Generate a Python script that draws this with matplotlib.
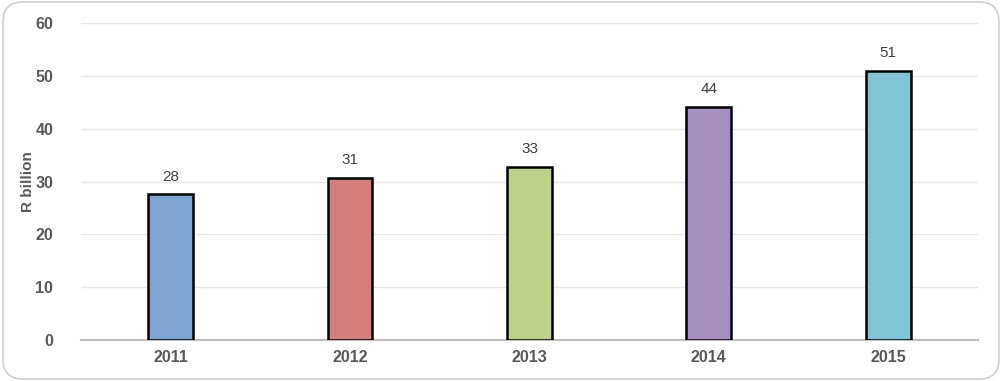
import matplotlib
matplotlib.use("Agg")
import matplotlib.pyplot as plt
from matplotlib.patches import FancyBboxPatch

years = ['2011', '2012', '2013', '2014', '2015']
values = [27.6, 30.7, 32.8, 44.1, 51.0]
colors = ['#7FA6D3', '#D47E7D', '#BDD18B', '#A591BF', '#7FC3D4']
y_ticks = [0, 10, 20, 30, 40, 50, 60]

plt.rcParams['font.family'] = ['Liberation Sans', 'DejaVu Sans']

fig = plt.figure(figsize=(10.02, 3.81), dpi=100)
ax = fig.add_axes([0.0808, 0.1076, 0.8952, 0.832])

# rounded outer frame
frame = FancyBboxPatch((0.003, 0.005), 0.994, 0.99,
                       boxstyle="round,pad=0,rounding_size=0.02",
                       transform=fig.transFigure, facecolor='white',
                       edgecolor='#D0D0D0', linewidth=1.2, zorder=-10,
                       mutation_aspect=1002 / 381)
fig.patches.append(frame)

x = range(len(years))
bars = ax.bar(x, values, width=0.25, color=colors, edgecolor='black',
              linewidth=1.8, zorder=3)

for b, v in zip(bars, values):
    ax.text(b.get_x() + b.get_width() / 2, v + 2.0, f"{v:.0f}",
            ha='center', va='bottom', fontsize=11, color='#404040')

ax.set_xlim(-0.5, 4.5)
ax.set_ylim(0, 60)
ax.set_yticks(y_ticks)
ax.set_xticks(list(x))
ax.set_xticklabels(years)
ax.tick_params(axis='both', length=0, labelsize=11.5, labelcolor='#595959')
ax.tick_params(axis='x', pad=7)
ax.tick_params(axis='y', pad=20)
for lab in ax.get_xticklabels() + ax.get_yticklabels():
    lab.set_fontweight('bold')

ax.set_ylabel('R billion', fontsize=11, fontweight='bold', color='#595959')
ax.yaxis.set_label_coords(-0.051, 0.5)

ax.grid(axis='y', color='#E8E8E8', linewidth=1, zorder=0)
for s in ['top', 'right', 'left']:
    ax.spines[s].set_visible(False)
ax.spines['bottom'].set_color('#BFBFBF')
ax.spines['bottom'].set_linewidth(1.5)
ax.set_facecolor('none')

fig.savefig('out.png', dpi=100, facecolor='white')
